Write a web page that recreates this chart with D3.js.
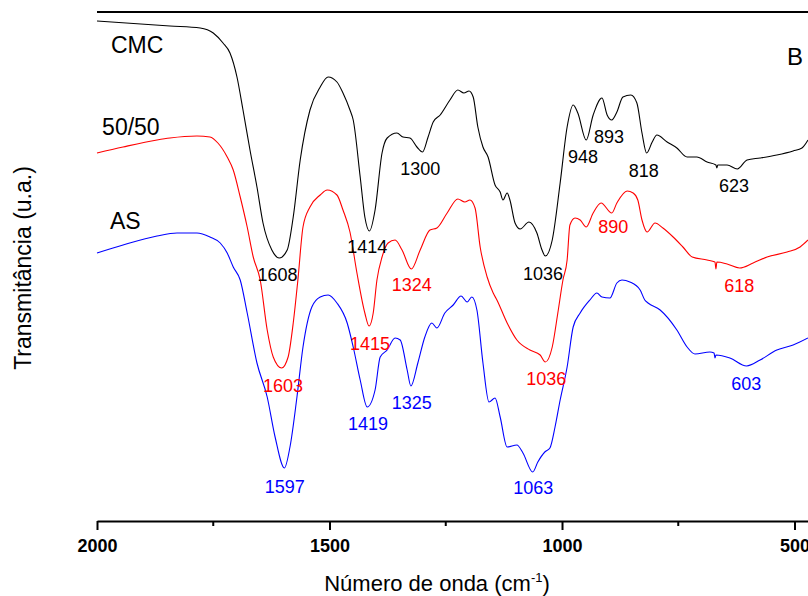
<!DOCTYPE html>
<html>
<head>
<meta charset="utf-8">
<script src="https://cdn.jsdelivr.net/npm/d3@7"></script>
<style>
  body { margin: 0; background: #fff; }
  text { font-family: Arial, "Liberation Sans", sans-serif; }
</style>
</head>
<body>
<svg id="chart"></svg>
<script>
// spectres FTIR : nombre d'onde (cm-1) et transmittance (u.a.)
const cmcWn = [2000,1843,1778,1750,1729,1714,1699,1686,1671,1656,1643,1624,1608,1591,1578,1563,1542,1520,1503,1484,1471,1456,1449,1434,1424,1414,1402,1387,1376,1355,1342,1327,1312,1300,1288,1277,1262,1241,1224,1211,1200,1191,1181,1170,1159,1144,1133,1127,1118,1112,1101,1090,1071,1054,1043,1036,1021,1004,989,976,966,948,933,914,903,893,882,869,852,839,828,818,806,796,774,753,731,710,688,669,667,665,645,623,602,574,538,503,484,471];
const cmcT  = [100,99,98.6,97.6,95.6,93.6,88.8,82.2,74.2,66.8,59.6,54.2,52.6,54.2,60.8,72.2,82.2,86.8,88.8,87.8,85.6,82.2,80.2,68.8,60.8,58,62.2,73.6,76.6,77.6,76.8,76.6,74.8,73.8,76.8,79.8,81.2,84.2,86.2,85.6,86,84.8,78.8,74.8,72.8,67.2,65.8,64.2,65.6,64.2,59.6,58.4,59.8,57.6,54.2,53,56.2,67.6,78.8,83.2,81.6,76.2,81.2,84.6,81.2,80.2,81.8,84.8,85.2,83.6,77.6,73.6,75.8,77.2,75.8,74.6,72.8,72.8,71.8,71.2,70.6,71.2,71.2,70.4,72.2,72.6,73.2,74,74.6,76.2];

const mixWn = [2000,1944,1871,1843,1785,1757,1740,1720,1707,1692,1677,1664,1649,1634,1621,1603,1589,1578,1568,1557,1542,1520,1505,1484,1471,1456,1441,1424,1415,1406,1398,1387,1374,1359,1344,1324,1305,1284,1269,1247,1224,1209,1198,1187,1176,1161,1148,1140,1118,1097,1069,1047,1036,1021,1009,998,989,983,972,961,948,933,916,893,882,860,847,837,828,817,800,783,761,740,720,688,671,669,667,645,618,589,559,516,488,471];
const mixT  = [73.6,74.8,76.2,76.6,77,76.8,75.6,72.8,70.2,64.8,58.8,52.8,48.2,38.2,32.8,30.6,32.8,39.6,48.2,58.8,62.8,65.2,66.2,65.2,62.2,57.8,49.6,41.6,39,41.6,48.2,52.8,55.6,56.2,54.2,50.4,54.2,58.2,58.6,61.6,64.4,63.8,64.2,62.6,54.8,48.8,45.6,44.2,39.6,36.2,34.2,33.2,31.8,34.8,41.6,48.2,52.2,59.2,60.6,60.2,58.8,61.6,63.6,61.6,63.6,66,65.6,64.2,60.2,57.8,59.6,58.6,56.8,54.8,52.8,52.2,51.8,50.4,51.8,51.4,50.6,51.6,52.8,53.8,54.8,56.2];

const asWn = [2000,1944,1871,1828,1785,1757,1735,1720,1707,1692,1677,1656,1634,1617,1597,1585,1570,1557,1538,1520,1503,1484,1462,1449,1434,1419,1402,1391,1376,1359,1348,1333,1325,1310,1295,1280,1269,1252,1234,1217,1204,1194,1183,1170,1157,1144,1133,1118,1097,1084,1063,1052,1037,1026,1015,1004,989,976,961,940,925,914,897,882,871,854,832,822,815,789,753,731,714,682,673,671,669,639,603,574,538,503,471];
const asT  = [53.6,55.2,57,57.6,57.6,56.8,55.6,53.6,50.8,48.2,41.6,31.6,24.8,16.8,10.6,14.8,24.8,34.8,42.8,44.8,45.2,43.6,39.6,34.8,28.2,22.8,26.2,32.8,34.2,36.6,36.2,30.2,27,31.6,36.8,39.6,38.6,41.6,43.2,45,43.8,44.8,42.2,31.6,23.8,24.6,20.8,14.8,15.2,13.6,9.8,11.8,13.8,14.6,18.8,24.2,30.8,38.8,41.6,44.2,45.6,44.8,44.6,47.6,48.2,47.8,46.2,44.2,43.6,42.2,38.2,34.8,33.4,33.8,33.6,32.6,33.2,32.6,31,32.2,34.2,35.2,36.6];

const seriesNames  = ["CMC", "50/50", "AS"];
const seriesColors = ["#000000", "#ff0000", "#0000ff"];
// position des noms de séries (nombre d'onde, transmittance)
const nameWn = [1970, 1989, 1972];
const nameT  = [93.6, 77.2, 58.4];

// étiquettes des bandes : texte, série, position
const peakText  = ["1608","1414","1300","1036","948","893","818","623",
                   "1603","1415","1324","1036","890","618",
                   "1597","1419","1325","1063","603"];
const peakSerie = [0,0,0,0,0,0,0,0, 1,1,1,1,1,1, 2,2,2,2,2];
const peakWn    = [1612,1419,1305,1041,955,899,824,630, 1600,1413,1323,1034,890,619, 1596,1417,1323,1062,604];
const peakT     = [48,53.6,69.2,48.2,71.6,75.6,68.8,65.8, 25.9,34.2,46,27.2,57.6,45.9, 5.7,18.2,22.4,5.4,26.2];

const xTicks = [2000, 1500, 1000, 500];
const xMinor = [1750, 1250, 750];

const W = 808, H = 596;
const svg = d3.select("#chart").attr("width", W).attr("height", H);

const x = d3.scaleLinear().domain([2000, 471]).range([97, 808]);
const y = d3.scaleLinear().domain([0, 101.8]).range([521, 12]);

const line = d3.line()
  .x(d => x(d[0]))
  .y(d => y(d[1]))
  .curve(d3.curveMonotoneX);

const series = [
  cmcWn.map((w, i) => [w, cmcT[i]]),
  mixWn.map((w, i) => [w, mixT[i]]),
  asWn.map((w, i) => [w, asT[i]])
];

svg.append("g").selectAll("path")
  .data(series)
  .enter().append("path")
  .attr("d", line)
  .attr("fill", "none")
  .attr("stroke", (d, i) => seriesColors[i])
  .attr("stroke-width", 1.1);

// ligne du haut du cadre
svg.append("line")
  .attr("x1", x(2000)).attr("x2", x(471))
  .attr("y1", y(101.8)).attr("y2", y(101.8))
  .attr("stroke", "#000").attr("stroke-width", 2);

// axe x
const gx = svg.append("g").attr("transform", `translate(0,${y(0)})`)
  .call(d3.axisBottom(x).tickValues(xTicks).tickSize(9).tickSizeOuter(0).tickPadding(9).tickFormat(d3.format("d")));
gx.select(".domain").attr("stroke-width", 2);
gx.selectAll(".tick line").attr("stroke-width", 2);
gx.selectAll(".tick text")
  .attr("font-size", 18).attr("font-weight", "bold")
  .attr("font-family", "Arial, 'Liberation Sans', sans-serif");

svg.append("g").attr("transform", `translate(0,${y(0)})`)
  .selectAll("line").data(xMinor).enter().append("line")
  .attr("x1", d => x(d)).attr("x2", d => x(d))
  .attr("y1", 0).attr("y2", 5)
  .attr("stroke", "#000").attr("stroke-width", 2);

// titres des axes
const xt = svg.append("text")
  .attr("x", 437).attr("y", 591)
  .attr("text-anchor", "middle")
  .attr("font-size", 22);
xt.append("tspan").text("Número de onda (cm");
xt.append("tspan").text("-1").attr("font-size", 13).attr("dy", -9);
xt.append("tspan").text(")").attr("dy", 9);

svg.append("text")
  .attr("transform", "translate(31,268) rotate(-90)")
  .attr("text-anchor", "middle")
  .attr("font-size", 23)
  .text("Transmitância (u.a.)");

// noms des séries
svg.append("g").selectAll("text")
  .data(seriesNames)
  .enter().append("text")
  .attr("x", (d, i) => x(nameWn[i]))
  .attr("y", (d, i) => y(nameT[i]))
  .attr("font-size", 23)
  .text(d => d);

svg.append("text")
  .attr("x", x(516)).attr("y", y(91.2))
  .attr("font-size", 24)
  .text("B");

// étiquettes des bandes
svg.append("g").selectAll("text")
  .data(peakText)
  .enter().append("text")
  .attr("x", (d, i) => x(peakWn[i]))
  .attr("y", (d, i) => y(peakT[i]))
  .attr("text-anchor", "middle")
  .attr("font-size", 18)
  .attr("fill", (d, i) => seriesColors[peakSerie[i]])
  .text(d => d);
</script>
</body>
</html>
